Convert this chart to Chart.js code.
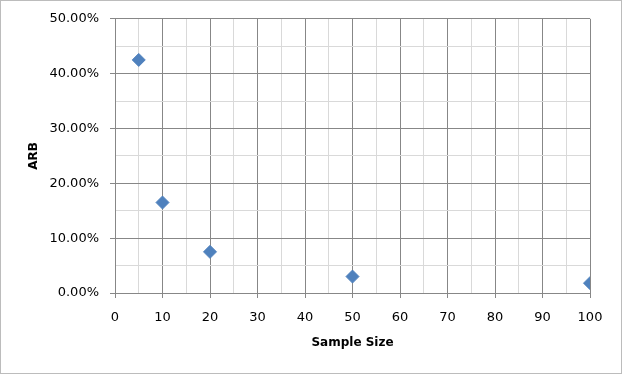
<!DOCTYPE html>
<html>
<head>
<meta charset="utf-8">
<script src="https://cdn.jsdelivr.net/npm/chart.js@4"></script>
<style>
  html, body { margin: 0; padding: 0; background: #fff; }
  #wrap { width: 623px; height: 374px; position: relative; }
</style>
</head>
<body>
<div id="wrap"><canvas id="chart" width="623" height="374"></canvas></div>
<script>
const sampleSize = [5, 10, 20, 50, 100];
const arb = [0.425, 0.165, 0.075, 0.030, 0.018];
const xTitle = 'Sample Size';
const yTitle = 'ARB';

const MAJOR = '#878787';
const MINOR = '#d9d9d9';
const FONT = "'DejaVu Sans', sans-serif";

const isMajorX = (v) => Math.round(v) % 10 === 0;
const isMajorY = (v) => Math.round(v * 100) % 10 === 0;

// outer frame like the excel chart area
const frame = {
  id: 'frame',
  afterDraw(chart) {
    const c = chart.ctx;
    c.save();
    c.strokeStyle = '#bcbcbc';
    c.lineWidth = 1;
    c.strokeRect(0.5, 0.5, 621, 373);
    c.restore();
  }
};

new Chart(document.getElementById('chart'), {
  type: 'scatter',
  data: {
    datasets: [{
      label: yTitle,
      data: sampleSize.map((x, i) => ({ x: x, y: arb[i] })),
      pointStyle: 'rectRot',
      pointRadius: 6.5,
      pointHoverRadius: 6.5,
      backgroundColor: '#4f81bd',
      borderColor: '#4f81bd',
      borderWidth: 1,
    }],
  },
  options: {
    responsive: false,
    animation: false,
    layout: { padding: { top: 18, right: 33, bottom: 0, left: 0 } },
    plugins: { legend: { display: false }, tooltip: { enabled: false } },
    scales: {
      x: {
        type: 'linear',
        min: 0,
        max: 100,
        afterFit: (s) => { s.height = 81; },
        ticks: {
          stepSize: 5,
          autoSkip: false,
          maxRotation: 0,
          padding: 12,
          color: '#000',
          font: { family: FONT, size: 13 },
          callback: (v) => (isMajorX(v) ? String(v) : ''),
        },
        grid: {
          color: (ctx) => (isMajorX(ctx.tick.value) ? MAJOR : MINOR),
          tickColor: (ctx) => (isMajorX(ctx.tick.value) ? MAJOR : 'rgba(0,0,0,0)'),
          tickLength: 5,
          lineWidth: 1,
        },
        border: { color: MAJOR },
        title: {
          display: true,
          text: xTitle,
          color: '#000',
          font: { family: FONT, size: 12, weight: 'bold' },
          padding: { top: 0, bottom: 24 },
        },
      },
      y: {
        min: 0,
        max: 0.5,
        afterFit: (s) => { s.width = 115; },
        ticks: {
          stepSize: 0.05,
          autoSkip: false,
          padding: 11,
          color: '#000',
          font: { family: FONT, size: 13 },
          callback: (v) => (isMajorY(v) ? (v * 100).toFixed(2) + '%' : ''),
        },
        grid: {
          color: (ctx) => (isMajorY(ctx.tick.value) ? MAJOR : MINOR),
          tickColor: (ctx) => (isMajorY(ctx.tick.value) ? MAJOR : 'rgba(0,0,0,0)'),
          tickLength: 5,
          lineWidth: 1,
        },
        border: { color: MAJOR },
        title: {
          display: true,
          text: yTitle,
          color: '#000',
          font: { family: FONT, size: 12, weight: 'bold' },
          padding: { top: 27, bottom: 0 },
        },
      },
    },
  },
  plugins: [frame],
});
</script>
</body>
</html>
